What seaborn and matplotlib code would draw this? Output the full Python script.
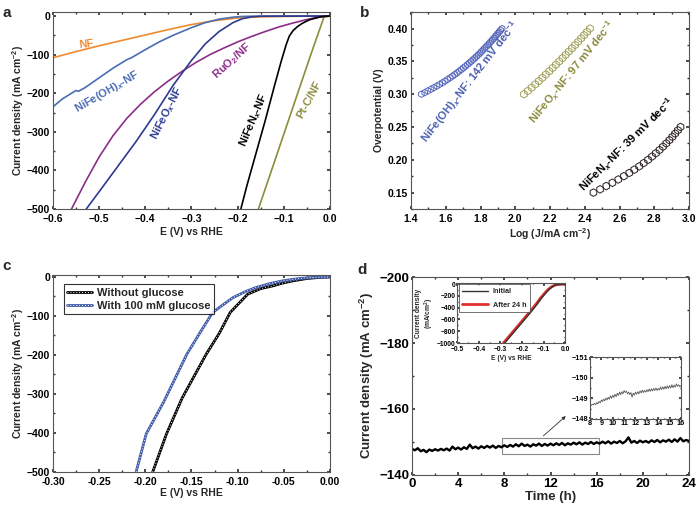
import numpy as np
import seaborn as sns
import matplotlib.pyplot as plt
from matplotlib.ticker import MultipleLocator
from matplotlib.patches import Rectangle

# ---- panel a: HER polarisation curves ----
nf_E = [-0.60, -0.55, -0.50, -0.45, -0.40, -0.35, -0.30, -0.25, -0.20, -0.15, -0.10, -0.05, 0.00]
nf_j = [-108, -92, -77, -63, -49, -35, -22, -12, -5, -2, -1, -0.3, 0]

oh_E = [-0.60, -0.58, -0.56, -0.55, -0.545, -0.53, -0.50, -0.47, -0.44, -0.43, -0.40, -0.37,
        -0.34, -0.30, -0.27, -0.24, -0.21, -0.19, -0.17, -0.10, 0.00]
oh_j = [-235, -215, -200, -193, -195, -185, -160, -135, -113, -108, -87, -67,
        -50, -30, -17, -8, -3, -1, -0.5, 0, 0]

ox_E = [-0.528, -0.50, -0.46, -0.42, -0.38, -0.34, -0.30, -0.27, -0.24, -0.21, -0.19, -0.17, -0.15, 0.00]
ox_j = [-500, -455, -390, -325, -255, -180, -115, -72, -40, -17, -7, -2, -0.5, 0]

ru_E = [-0.56, -0.53, -0.50, -0.47, -0.44, -0.41, -0.38, -0.35, -0.32, -0.29, -0.26, -0.23,
        -0.20, -0.17, -0.14, -0.11, -0.08, -0.05, -0.03, -0.01, 0.00]
ru_j = [-500, -430, -365, -310, -265, -228, -196, -168, -143, -120, -100, -83,
        -67, -53, -40, -28, -18, -9, -4, -1, 0]

nx_E = [-0.193, -0.18, -0.16, -0.14, -0.12, -0.105, -0.095, -0.088, -0.08, -0.07, -0.06,
        -0.045, -0.03, -0.02, -0.01, 0.00]
nx_j = [-500, -440, -355, -270, -180, -115, -75, -52, -38, -27, -19, -10, -5, -2, -0.5, 0]

pt_E = [-0.155, -0.12, -0.08, -0.04, -0.013, -0.005, 0.00]
pt_j = [-500, -377, -236, -95, -3, -1, 0]

# ---- panel b: Tafel plots ----
oh_eta = [0.3000, 0.3025, 0.3050, 0.3075, 0.3100, 0.3125, 0.3150, 0.3175, 0.3200, 0.3225,
          0.3250, 0.3275, 0.3300, 0.3325, 0.3350, 0.3375, 0.3400, 0.3425, 0.3450, 0.3475,
          0.3500, 0.3525, 0.3550, 0.3575, 0.3600, 0.3625, 0.3650, 0.3675, 0.3700, 0.3725,
          0.3750, 0.3775, 0.3800, 0.3825, 0.3850, 0.3875, 0.3900, 0.3925, 0.3950, 0.3975, 0.4000]
oh_logj = [1.460, 1.479, 1.497, 1.515, 1.532, 1.549, 1.565, 1.581, 1.596, 1.611,
           1.625, 1.639, 1.652, 1.665, 1.677, 1.689, 1.701, 1.713, 1.724, 1.735,
           1.746, 1.757, 1.767, 1.777, 1.787, 1.797, 1.806, 1.815, 1.824, 1.833,
           1.842, 1.851, 1.859, 1.868, 1.876, 1.884, 1.892, 1.900, 1.908, 1.916, 1.924]
ox_eta = [0.300, 0.305, 0.310, 0.315, 0.320, 0.325, 0.330, 0.335, 0.340, 0.345, 0.350,
          0.355, 0.360, 0.365, 0.370, 0.375, 0.380, 0.385, 0.390, 0.395, 0.400]
ox_logj = [2.050, 2.072, 2.094, 2.115, 2.136, 2.156, 2.176, 2.196, 2.215, 2.234, 2.253,
           2.272, 2.290, 2.308, 2.326, 2.344, 2.362, 2.379, 2.396, 2.413, 2.430]
nx_eta = [0.150, 0.155, 0.160, 0.165, 0.170, 0.175, 0.180, 0.185, 0.190, 0.195, 0.200,
          0.205, 0.210, 0.215, 0.220, 0.225, 0.230, 0.235, 0.240, 0.245, 0.250]
nx_logj = [2.450, 2.488, 2.524, 2.559, 2.593, 2.625, 2.656, 2.685, 2.713, 2.739, 2.764,
           2.787, 2.809, 2.830, 2.850, 2.869, 2.887, 2.904, 2.920, 2.936, 2.951]

# ---- panel c: with / without glucose ----
noglu_E = [-0.192, -0.177, -0.16, -0.134, -0.12, -0.108, -0.089, -0.075, -0.062, -0.05,
           -0.04, -0.025, -0.01, 0.00]
noglu_j = [-500, -402, -310, -198, -145, -91, -44, -30, -23, -15, -10, -4, -1, 0]
glu_E = [-0.21, -0.199, -0.18, -0.155, -0.14, -0.127, -0.115, -0.105, -0.092, -0.08,
         -0.065, -0.051, -0.033, -0.015, 0.00]
glu_j = [-500, -402, -320, -198, -140, -91, -70, -53, -38, -27, -17, -10, -4, -1, 0]

# ---- panel d: 24 h stability ----
stab_j = [-147.9, -147.5, -148.1, -147.2, -147.6, -146.9, -147.7, -147.3, -147.8, -147.4,
          -147.9, -147.5, -148.0, -147.4, -148.6, -147.8, -148.3, -147.7, -148.4, -147.9,
          -149.2, -148.1, -148.6, -148.0, -148.7, -148.2, -148.8, -148.3, -148.9, -148.2,
          -148.8, -148.4, -149.0, -148.5, -149.1, -148.6, -149.3, -148.7, -149.5, -148.8,
          -149.2, -148.6, -149.3, -148.9, -149.5, -148.8, -149.4, -148.9, -149.5, -149.0,
          -149.6, -149.1, -149.7, -149.0, -149.6, -149.2, -149.8, -149.3, -149.9, -149.2,
          -149.8, -149.4, -150.0, -149.4, -149.9, -149.5, -150.1, -149.6, -150.2, -149.5,
          -150.1, -149.7, -150.3, -149.6, -150.2, -151.4, -149.8, -150.3, -149.7, -150.4,
          -149.9, -150.3, -149.8, -150.5, -150.0, -150.6, -149.9, -150.5, -150.1, -150.7,
          -150.0, -150.8, -150.1, -151.2, -150.2, -150.6, -150.3]
stab_t = np.linspace(0, 24, len(stab_j))

zoom_j = [-148.70, -148.65, -148.72, -148.68, -148.76, -148.70, -148.80, -148.74, -148.85, -148.78,
          -148.92, -148.84, -148.96, -148.88, -149.02, -148.92, -149.05, -148.96, -149.12, -149.00,
          -149.15, -149.05, -149.20, -149.08, -149.25, -149.14, -149.30, -149.18, -149.32, -149.22,
          -149.38, -149.28, -149.35, -149.22, -149.30, -149.18, -149.28, -149.05, -149.25, -149.15,
          -149.30, -149.20, -149.32, -149.22, -149.36, -149.26, -149.40, -149.28, -149.38, -149.30,
          -149.42, -149.32, -149.45, -149.34, -149.46, -149.36, -149.48, -149.38, -149.50, -149.38,
          -149.48, -149.40, -149.55, -149.42, -149.56, -149.44, -149.58, -149.46, -149.60, -149.48,
          -149.62, -149.50, -149.66, -149.52, -149.64, -149.54, -149.70, -149.58, -149.66, -149.56,
          -149.62]
zoom_t = np.linspace(8, 16, len(zoom_j))

init_E = [-0.280, -0.25, -0.22, -0.19, -0.16, -0.13, -0.11, -0.09, -0.075, -0.06, -0.045, -0.03, -0.015, 0.0]
after_E = [-0.286, -0.256, -0.226, -0.196, -0.166, -0.135, -0.115, -0.094, -0.079, -0.063, -0.047, -0.031, -0.015, 0.0]
lsv_j = [-1000, -870, -740, -610, -480, -340, -240, -150, -90, -45, -15, -4, -1, 0]

sns.set_theme(style="ticks")
plt.rcParams.update({
    "font.weight": "bold",
    "axes.labelweight": "bold",
    "axes.edgecolor": "#555555",
    "axes.linewidth": 0.8,
    "xtick.direction": "in", "ytick.direction": "in",
    "xtick.top": True, "ytick.right": True,
    "xtick.major.size": 2.5, "ytick.major.size": 2.5,
    "xtick.minor.size": 1.4, "ytick.minor.size": 1.4,
    "xtick.color": "#333333", "ytick.color": "#333333",
    "xtick.labelcolor": "black", "ytick.labelcolor": "black",
    "mathtext.fontset": "custom",
    "mathtext.rm": "Liberation Sans:bold",
    "mathtext.bf": "Liberation Sans:bold",
    "mathtext.it": "Liberation Sans:italic:bold",
    "mathtext.default": "rm",
})
plt.rcParams["font.family"] = ["Liberation Sans", "DejaVu Sans"]


def style(ax, xmaj, xmin, ymaj, ymin, fs=7.5):
    ax.xaxis.set_major_locator(MultipleLocator(xmaj))
    ax.xaxis.set_minor_locator(MultipleLocator(xmin))
    ax.yaxis.set_major_locator(MultipleLocator(ymaj))
    ax.yaxis.set_minor_locator(MultipleLocator(ymin))
    ax.tick_params(which="both", direction="in", top=True, right=True, labelsize=fs, pad=2)


def line(ax, x, y, color, lw=1.2, **kw):
    sns.lineplot(x=x, y=y, ax=ax, color=color, lw=lw, sort=False, estimator=None, **kw)
    return ax.lines[-1]


fig = plt.figure(figsize=(6.96, 5.08), dpi=100)

# ---------------- a ----------------
ax = fig.add_axes([0.0762, 0.5886, 0.3978, 0.3874])
c_nf, c_oh, c_ox, c_ru, c_nx, c_pt = "#f08a2e", "#4a6cb3", "#2d3b8f", "#8c2d8a", "black", "#8c8c3c"
line(ax, nf_E, nf_j, c_nf)
line(ax, oh_E, oh_j, c_oh)
line(ax, ru_E, ru_j, c_ru)
line(ax, ox_E, ox_j, c_ox)
line(ax, pt_E, pt_j, c_pt)
line(ax, nx_E, nx_j, c_nx)
ax.set_xlim(-0.6, 0.0)
ax.set_ylim(-500, 10)
style(ax, 0.1, 0.05, 100, 50)
ax.tick_params(axis="x", pad=3.5)
ax.set_xlabel("E (V) vs RHE", fontsize=7.5, labelpad=2)
ax.set_ylabel("Current density (mA cm$^{-2}$)", fontsize=7.5, labelpad=1)
kw = dict(fontsize=8, fontweight="bold", ha="center", va="center", rotation_mode="anchor")
ax.text(-0.528, -73, "NF", color=c_nf, rotation=6, **kw)
ax.text(-0.483, -197, "NiFe(OH)$_\\mathit{x}$-NF", color=c_oh, rotation=30, **kw)
ax.text(-0.353, -251, "NiFeO$_\\mathit{x}$-NF", color=c_ox, rotation=63, **kw)
ax.text(-0.211, -116, "RuO$_2$/NF", color=c_ru, rotation=42, **kw)
ax.text(-0.166, -270, "NiFeN$_\\mathit{x}$-NF", color=c_nx, rotation=67, **kw)
ax.text(-0.045, -217, "Pt-C/NF", color=c_pt, rotation=62, **kw)

# ---------------- b ----------------
ax = fig.add_axes([0.5905, 0.5886, 0.3995, 0.3874])
for xs, ys, col, sz in [(oh_logj, oh_eta, "#5868bc", 22), (ox_logj, ox_eta, "#a0a05a", 30),
                        (nx_logj, nx_eta, "#2b1f1f", 30)]:
    sns.scatterplot(x=xs, y=ys, ax=ax, marker="h", s=sz, facecolor="none",
                    edgecolor=col, linewidth=0.7)
ax.set_xlim(1.4, 3.0)
ax.set_ylim(0.125, 0.425)
style(ax, 0.2, 0.1, 0.05, 0.025)
ax.tick_params(axis="x", pad=3.5)
ax.yaxis.set_major_formatter(plt.FormatStrFormatter("%.2f"))
ax.xaxis.set_major_formatter(plt.FormatStrFormatter("%.1f"))
ax.set_xlabel("Log (J/mA cm$^{-2}$)", fontsize=7.5, labelpad=2)
ax.set_ylabel("Overpotential (V)", fontsize=7.5, labelpad=3)
ax.text(1.737, 0.319, "NiFe(OH)$_\\mathit{x}$-NF: 142 mV dec$^{-1}$", color="#4a5eb0", rotation=52, **kw)
ax.text(2.327, 0.333, "NiFeO$_\\mathit{x}$-NF: 97 mV dec$^{-1}$", color="#8a8a3a", rotation=51, **kw)
ax.text(2.646, 0.2225, "NiFeN$_\\mathit{x}$-NF: 39 mV dec$^{-1}$", color="black", rotation=44.5, **kw)

# ---------------- c ----------------
ax = fig.add_axes([0.0762, 0.0709, 0.3978, 0.3878])
l1 = line(ax, noglu_E, noglu_j, "black", lw=2.0)
l1d = line(ax, noglu_E, noglu_j, "white", lw=0.7, linestyle=(0, (1, 2)))
l2 = line(ax, glu_E, glu_j, "#3f5aa8", lw=2.0)
l2d = line(ax, glu_E, glu_j, "white", lw=0.7, linestyle=(0, (1, 2)))
ax.set_xlim(-0.30, 0.0)
ax.set_ylim(-500, 5)
style(ax, 0.05, 0.025, 100, 50)
ax.tick_params(axis="x", pad=3.5)
ax.xaxis.set_major_formatter(plt.FormatStrFormatter("%.2f"))
ax.set_xlabel("E (V) vs RHE", fontsize=7.5, labelpad=1)
ax.set_ylabel("Current density (mA cm$^{-2}$)", fontsize=7.5, labelpad=1)
leg = ax.legend([(l1, l1d), (l2, l2d)], ["Without glucose", "With 100 mM glucose"],
                loc="upper left", fontsize=8, frameon=True, fancybox=False,
                borderpad=0.3, handlelength=2.2, handletextpad=0.5, labelspacing=0.25,
                bbox_to_anchor=(0.02, 0.98))
leg.get_frame().set_edgecolor("black")
leg.get_frame().set_linewidth(0.8)

# ---------------- d ----------------
ax = fig.add_axes([0.592, 0.065, 0.398, 0.3897])
line(ax, stab_t, stab_j, "black", lw=1.7)
ax.set_xlim(0, 24)
ax.set_ylim(-140, -200)
style(ax, 4, 2, 20, 10, fs=9.5)
ax.set_xlabel("Time (h)", fontsize=9.5, labelpad=1)
ax.set_ylabel("Current density (mA cm$^{-2}$)", fontsize=9.5, labelpad=2)
ax.add_patch(Rectangle((7.8, -146.3), 8.4, -5.0, fill=False, edgecolor="#888888", lw=0.8))
ax.annotate("", xy=(13.5, -158.4), xytext=(11.2, -151.3),
            arrowprops=dict(arrowstyle="-|>", color="#333333", lw=0.6, mutation_scale=5))

# inset: polarisation before/after
ins = fig.add_axes([0.657, 0.3248, 0.155, 0.1181])
line(ins, after_E, lsv_j, "#e0302a", lw=2.0, label="After 24 h")
line(ins, init_E, lsv_j, "#333333", lw=1.0, label="Initial")
ins.set_xlim(-0.5, 0.0)
ins.set_ylim(-1000, 20)
style(ins, 0.1, 0.05, 200, 100, fs=4.8)
ins.tick_params(which="major", length=1.8, pad=1)
ins.tick_params(axis="x", pad=2.5)
ins.tick_params(which="minor", length=1.0)
ins.set_xlabel("E (V) vs RHE", fontsize=4.8, labelpad=1)
ins.set_ylabel("Current density\n(mA/cm$^2$)", fontsize=4.8, labelpad=1, linespacing=1.0)
h, lab = ins.get_legend_handles_labels()
lg = ins.legend(h[::-1], lab[::-1], loc="upper left", fontsize=5.2, frameon=True, fancybox=False,
                borderpad=0.5, handlelength=3.6, handletextpad=0.6, labelspacing=0.9,
                borderaxespad=0.2, bbox_to_anchor=(0.0, 1.0))
lg.get_frame().set_edgecolor("#333333")
lg.get_frame().set_linewidth(0.6)

# inset: zoom 8-16 h
ins2 = fig.add_axes([0.8477, 0.1752, 0.1307, 0.122])
line(ins2, zoom_t, zoom_j, "#555555", lw=0.6)
ins2.set_xlim(8, 16)
ins2.set_ylim(-148, -151)
style(ins2, 1, 0.5, 1, 0.5, fs=5.2)
ins2.tick_params(which="major", length=1.8, pad=1)
ins2.tick_params(which="minor", length=1.0)
ins2.set_xlabel("")
ins2.set_ylabel("")

for x, y, s in [(0.003, 0.988, "a"), (0.517, 0.988, "b"), (0.003, 0.49, "c"), (0.513, 0.483, "d")]:
    fig.text(x, y, s, fontsize=11, fontweight="bold", ha="left", va="top")

fig.savefig("out.png", dpi=100)
